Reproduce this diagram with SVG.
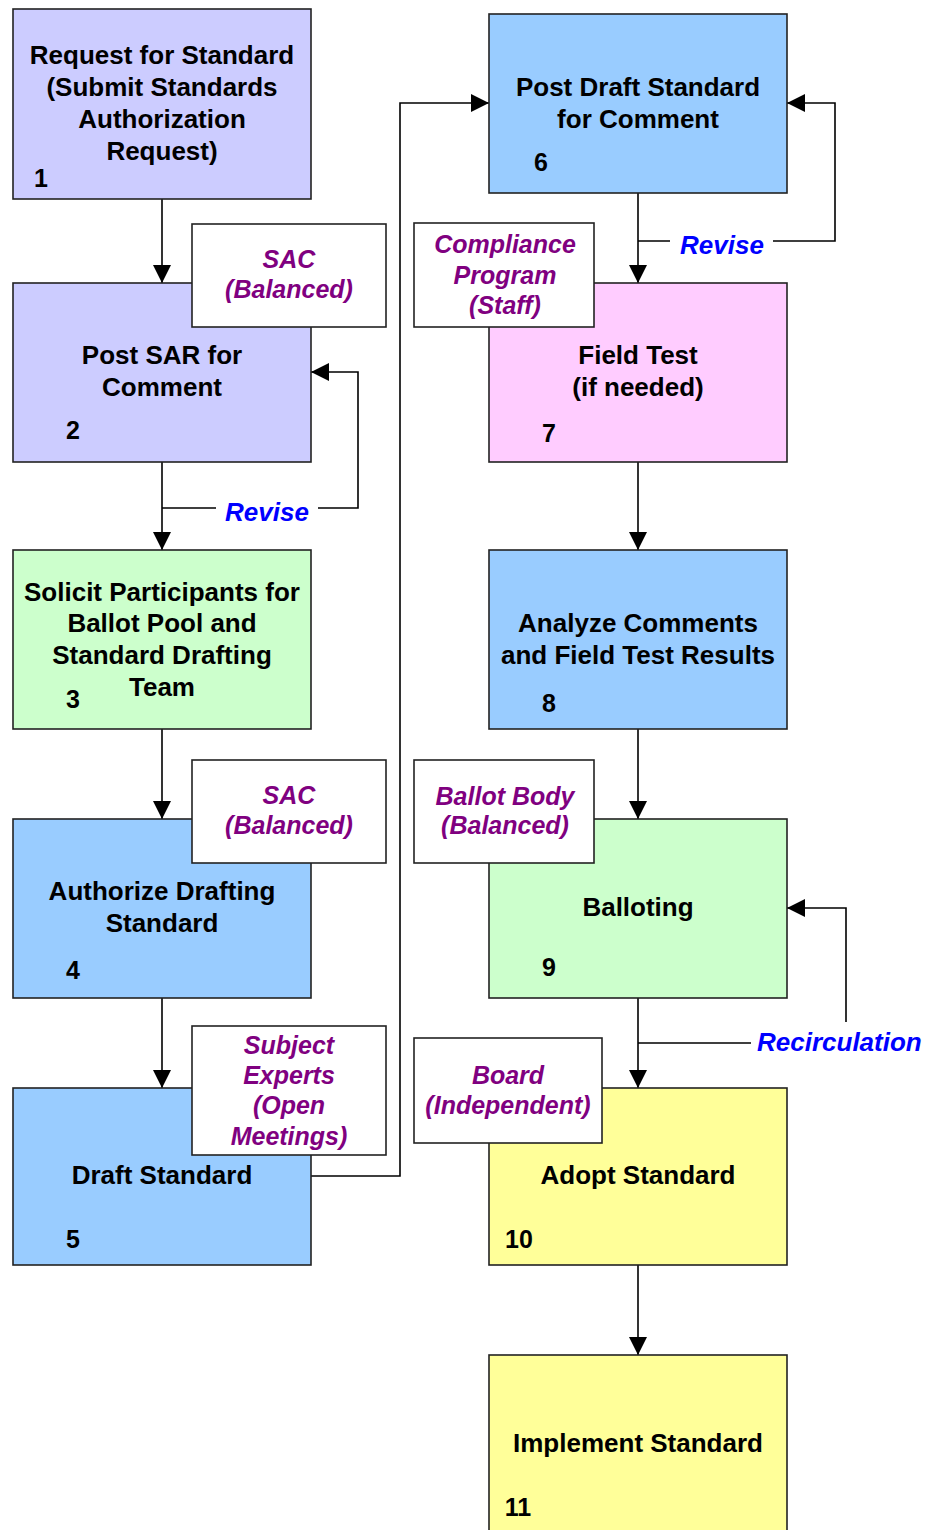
<svg xmlns="http://www.w3.org/2000/svg" width="927" height="1530" viewBox="0 0 927 1530">
<style>
.box{stroke:#222;stroke-width:1.6}
.lbl{fill:#fff;stroke:#222;stroke-width:1.6}
.t{font-family:"Liberation Sans",Arial,sans-serif;font-weight:bold;font-size:26px;fill:#000;text-anchor:middle}
.n{font-family:"Liberation Sans",Arial,sans-serif;font-weight:bold;font-size:25px;fill:#000;text-anchor:middle}
.p{font-family:"Liberation Sans",Arial,sans-serif;font-weight:bold;font-style:italic;font-size:25px;fill:#800080;text-anchor:middle}
.b{font-family:"Liberation Sans",Arial,sans-serif;font-weight:bold;font-style:italic;font-size:26px;fill:#0000FF}
.c{fill:none;stroke:#000;stroke-width:1.6}
.purple{fill:#CCCCFF}.green{fill:#CCFFCC}.blue{fill:#99CCFF}.pink{fill:#FFCCFF}.yellow{fill:#FFFF99}
</style>
<defs>
<marker id="ah" markerUnits="userSpaceOnUse" markerWidth="20" markerHeight="20" viewBox="0 0 20 20" refX="18" refY="10" orient="auto">
<path d="M0,1 L18,10 L0,19 Z" fill="#000"/>
</marker>
</defs>
<rect width="927" height="1530" fill="#fff"/>

<g id="connectors">
<path class="c" d="M162,199 V283" marker-end="url(#ah)"/>
<path class="c" d="M162,462 V550" marker-end="url(#ah)"/>
<path class="c" d="M162,508 H358 V372 H311" marker-end="url(#ah)"/>
<path class="c" d="M162,729 V819" marker-end="url(#ah)"/>
<path class="c" d="M162,998 V1088" marker-end="url(#ah)"/>
<path class="c" d="M311,1176 H400 V103 H489" marker-end="url(#ah)"/>
<path class="c" d="M638,193 V283" marker-end="url(#ah)"/>
<path class="c" d="M638,241 H835 V103 H787" marker-end="url(#ah)"/>
<path class="c" d="M638,462 V550" marker-end="url(#ah)"/>
<path class="c" d="M638,729 V819" marker-end="url(#ah)"/>
<path class="c" d="M638,998 V1088" marker-end="url(#ah)"/>
<path class="c" d="M638,1043 H846 V908 H787" marker-end="url(#ah)"/>
<path class="c" d="M638,1265 V1355" marker-end="url(#ah)"/>
<rect x="216" y="496" width="102" height="30" fill="#fff"/>
<text class="b" x="225" y="521">Revise</text>
<rect x="670" y="229" width="103" height="30" fill="#fff"/>
<text class="b" x="680" y="254">Revise</text>
<rect x="751" y="1022" width="176" height="36" fill="#fff"/>
<text class="b" x="757" y="1051">Recirculation</text>
</g>

<g id="node1">
<rect class="box purple" x="13" y="9" width="298" height="190"/>
<text class="t" x="162" y="64">Request for Standard</text>
<text class="t" x="162" y="96">(Submit Standards</text>
<text class="t" x="162" y="128">Authorization</text>
<text class="t" x="162" y="160">Request)</text>
<text class="n" x="41" y="187">1</text>
</g>
<g id="node2">
<rect class="box purple" x="13" y="283" width="298" height="179"/>
<text class="t" x="162" y="364">Post SAR for</text>
<text class="t" x="162" y="396">Comment</text>
<text class="n" x="73" y="439">2</text>
</g>
<g id="node3">
<rect class="box green" x="13" y="550" width="298" height="179"/>
<text class="t" x="162" y="601">Solicit Participants for</text>
<text class="t" x="162" y="632">Ballot Pool and</text>
<text class="t" x="162" y="664">Standard Drafting</text>
<text class="t" x="162" y="696">Team</text>
<text class="n" x="73" y="708">3</text>
</g>
<g id="node4">
<rect class="box blue" x="13" y="819" width="298" height="179"/>
<text class="t" x="162" y="900">Authorize Drafting</text>
<text class="t" x="162" y="932">Standard</text>
<text class="n" x="73" y="979">4</text>
</g>
<g id="node5">
<rect class="box blue" x="13" y="1088" width="298" height="177"/>
<text class="t" x="162" y="1184">Draft Standard</text>
<text class="n" x="73" y="1248">5</text>
</g>
<g id="node6">
<rect class="box blue" x="489" y="14" width="298" height="179"/>
<text class="t" x="638" y="96">Post Draft Standard</text>
<text class="t" x="638" y="128">for Comment</text>
<text class="n" x="541" y="171">6</text>
</g>
<g id="node7">
<rect class="box pink" x="489" y="283" width="298" height="179"/>
<text class="t" x="638" y="364">Field Test</text>
<text class="t" x="638" y="396">(if needed)</text>
<text class="n" x="549" y="442">7</text>
</g>
<g id="node8">
<rect class="box blue" x="489" y="550" width="298" height="179"/>
<text class="t" x="638" y="632">Analyze Comments</text>
<text class="t" x="638" y="664">and Field Test Results</text>
<text class="n" x="549" y="712">8</text>
</g>
<g id="node9">
<rect class="box green" x="489" y="819" width="298" height="179"/>
<text class="t" x="638" y="916">Balloting</text>
<text class="n" x="549" y="976">9</text>
</g>
<g id="node10">
<rect class="box yellow" x="489" y="1088" width="298" height="177"/>
<text class="t" x="638" y="1184">Adopt Standard</text>
<text class="n" x="519" y="1248">10</text>
</g>
<g id="node11">
<rect class="box yellow" x="489" y="1355" width="298" height="180"/>
<text class="t" x="638" y="1452">Implement Standard</text>
<text class="n" x="518" y="1516">11</text>
</g>

<g id="label-sac1">
<rect class="lbl" x="192" y="224" width="194" height="103"/>
<text class="p" x="289" y="268">SAC</text>
<text class="p" x="289" y="298">(Balanced)</text>
</g>
<g id="label-sac2">
<rect class="lbl" x="192" y="760" width="194" height="103"/>
<text class="p" x="289" y="804">SAC</text>
<text class="p" x="289" y="834">(Balanced)</text>
</g>
<g id="label-experts">
<rect class="lbl" x="192" y="1026" width="194" height="129"/>
<text class="p" x="289" y="1054">Subject</text>
<text class="p" x="289" y="1084">Experts</text>
<text class="p" x="289" y="1114">(Open</text>
<text class="p" x="289" y="1145">Meetings)</text>
</g>
<g id="label-compliance">
<rect class="lbl" x="414" y="223" width="180" height="104"/>
<text class="p" x="505" y="253">Compliance</text>
<text class="p" x="505" y="284">Program</text>
<text class="p" x="505" y="314">(Staff)</text>
</g>
<g id="label-ballotbody">
<rect class="lbl" x="414" y="760" width="180" height="103"/>
<text class="p" x="505" y="805">Ballot Body</text>
<text class="p" x="505" y="834">(Balanced)</text>
</g>
<g id="label-board">
<rect class="lbl" x="414" y="1038" width="188" height="105"/>
<text class="p" x="508" y="1084">Board</text>
<text class="p" x="508" y="1114">(Independent)</text>
</g>
</svg>
